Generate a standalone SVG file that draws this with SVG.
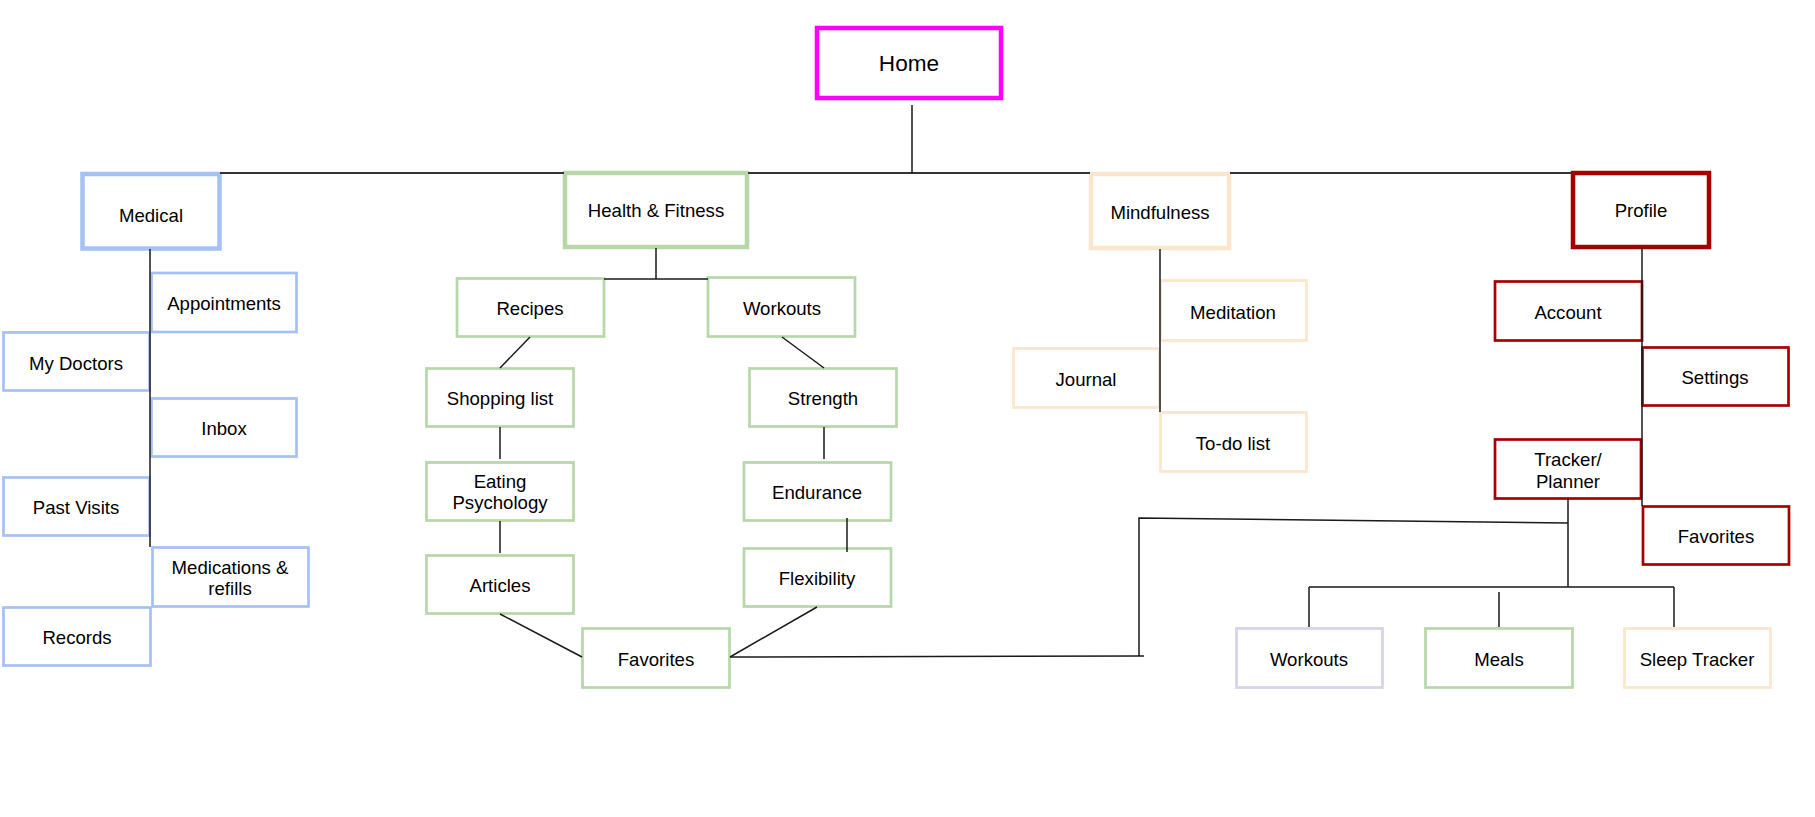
<svg xmlns="http://www.w3.org/2000/svg" width="1815" height="817" viewBox="0 0 1815 817">
<style>
  .bg{fill:#ffffff}
  rect.b{fill:#ffffff}
  .lv1{stroke-width:4.5}
  .lv2{stroke-width:2.7}
  .mag{stroke:#ff00ff}
  .blue{stroke:#a4c2f4}
  .green{stroke:#b6d7a8}
  .peach{stroke:#fce5cd}
  .red{stroke:#a50000}
  .lav{stroke:#d9d2e9}
  text{font-family:"Liberation Sans",Arial,sans-serif;font-size:18.6px;fill:#000;text-anchor:middle}
  text.home{font-size:22.6px}
  #connectors path{fill:none;stroke:#1a1a1a;stroke-width:1.5}
  #connectors path.main{stroke:#333;stroke-width:2}
</style>
<rect class="bg" x="0" y="0" width="1815" height="817"/>

<g id="nodes">
  <g id="home"><rect class="b lv1 mag" x="817" y="28" width="184" height="70"/><text class="home" x="909" y="71">Home</text></g>

  <g id="medical"><rect class="b lv1 blue" x="82.5" y="174" width="137" height="74.5"/><text x="151" y="222">Medical</text></g>
  <g id="appointments"><rect class="b lv2 blue" x="151.5" y="273" width="145" height="59"/><text x="224" y="310">Appointments</text></g>
  <g id="my-doctors"><rect class="b lv2 blue" x="3.5" y="332.5" width="146" height="58"/><text x="76" y="370">My Doctors</text></g>
  <g id="inbox"><rect class="b lv2 blue" x="151.5" y="398.5" width="145" height="58"/><text x="224" y="435">Inbox</text></g>
  <g id="past-visits"><rect class="b lv2 blue" x="3.5" y="477.5" width="146" height="58"/><text x="76" y="514">Past Visits</text></g>
  <g id="medications"><rect class="b lv2 blue" x="152.5" y="547.5" width="156" height="59"/><text x="230" y="574">Medications &amp;</text><text x="230" y="595">refills</text></g>
  <g id="records"><rect class="b lv2 blue" x="3.5" y="607.5" width="147" height="58"/><text x="77" y="644">Records</text></g>

  <g id="health-fitness"><rect class="b lv1 green" x="565" y="173" width="182" height="74"/><text x="656" y="217">Health &amp; Fitness</text></g>
  <g id="recipes"><rect class="b lv2 green" x="457" y="278.5" width="147" height="58"/><text x="530" y="315">Recipes</text></g>
  <g id="workouts-hf"><rect class="b lv2 green" x="708" y="277.5" width="147" height="59"/><text x="782" y="315">Workouts</text></g>
  <g id="shopping-list"><rect class="b lv2 green" x="426.5" y="368.5" width="147" height="58"/><text x="500" y="405">Shopping list</text></g>
  <g id="strength"><rect class="b lv2 green" x="749.5" y="368.5" width="147" height="58"/><text x="823" y="404.5">Strength</text></g>
  <g id="eating-psychology"><rect class="b lv2 green" x="426.5" y="462.5" width="147" height="58"/><text x="500" y="488">Eating</text><text x="500" y="509">Psychology</text></g>
  <g id="endurance"><rect class="b lv2 green" x="744" y="462.5" width="147" height="58"/><text x="817" y="499">Endurance</text></g>
  <g id="articles"><rect class="b lv2 green" x="426.5" y="555.5" width="147" height="58"/><text x="500" y="592">Articles</text></g>
  <g id="flexibility"><rect class="b lv2 green" x="744" y="548.5" width="147" height="58"/><text x="817" y="585">Flexibility</text></g>
  <g id="favorites-hf"><rect class="b lv2 green" x="582.5" y="628.5" width="147" height="59"/><text x="656" y="665.7">Favorites</text></g>

  <g id="mindfulness"><rect class="b lv1 peach" x="1091" y="174" width="138" height="74"/><text x="1160" y="219">Mindfulness</text></g>
  <g id="meditation"><rect class="b lv2 peach" x="1160.5" y="280.5" width="146" height="60"/><text x="1233" y="319">Meditation</text></g>
  <g id="journal"><rect class="b lv2 peach" x="1013.5" y="348.5" width="146" height="59"/><text x="1086" y="386">Journal</text></g>
  <g id="todo-list"><rect class="b lv2 peach" x="1160.5" y="412.5" width="146" height="59"/><text x="1233" y="450">To-do list</text></g>

  <g id="profile"><rect class="b lv1 red" x="1573" y="173" width="136" height="74"/><text x="1641" y="217">Profile</text></g>
  <g id="account"><rect class="b lv2 red" x="1495" y="281.5" width="147" height="59"/><text x="1568" y="319">Account</text></g>
  <g id="settings"><rect class="b lv2 red" x="1642.5" y="347.5" width="146" height="58"/><text x="1715" y="384">Settings</text></g>
  <g id="tracker-planner"><rect class="b lv2 red" x="1495" y="439.5" width="146" height="59"/><text x="1568" y="465.7">Tracker/</text><text x="1568" y="487.7">Planner</text></g>
  <g id="favorites-profile"><rect class="b lv2 red" x="1643" y="506.5" width="146" height="58"/><text x="1716" y="543">Favorites</text></g>

  <g id="workouts-tracker"><rect class="b lv2 lav" x="1236.5" y="628.5" width="146" height="59"/><text x="1309" y="665.7">Workouts</text></g>
  <g id="meals"><rect class="b lv2 green" x="1425.5" y="628.5" width="147" height="59"/><text x="1499" y="665.7">Meals</text></g>
  <g id="sleep-tracker"><rect class="b lv2 peach" x="1624.5" y="628.5" width="146" height="59"/><text x="1697" y="665.7">Sleep Tracker</text></g>
</g>

<g id="connectors">
  <path class="main" d="M220 173 H564 M748 173 H1090 M1230 173 H1571"/>
  <path d="M912 105 V173"/>
  <path d="M150 249 V547"/>
  <path d="M656 248 V279 M604 279 H708"/>
  <path d="M530 337 L500 368"/>
  <path d="M500 427 V459"/>
  <path d="M500 521 V553"/>
  <path d="M500 614 L582 657"/>
  <path d="M782 337 L824 368"/>
  <path d="M824 427 V459"/>
  <path d="M847 518 V552"/>
  <path d="M817 607 L730 657"/>
  <path d="M730 657 L1144 656 M1139 656 V518 L1568 523"/>
  <path d="M1160 249 V412"/>
  <path d="M1642 248 V506"/>
  <path d="M1568 499 V587 M1309 587 H1674 M1309 587 V627 M1499 592 V627 M1674 587 V627"/>
</g>
</svg>
